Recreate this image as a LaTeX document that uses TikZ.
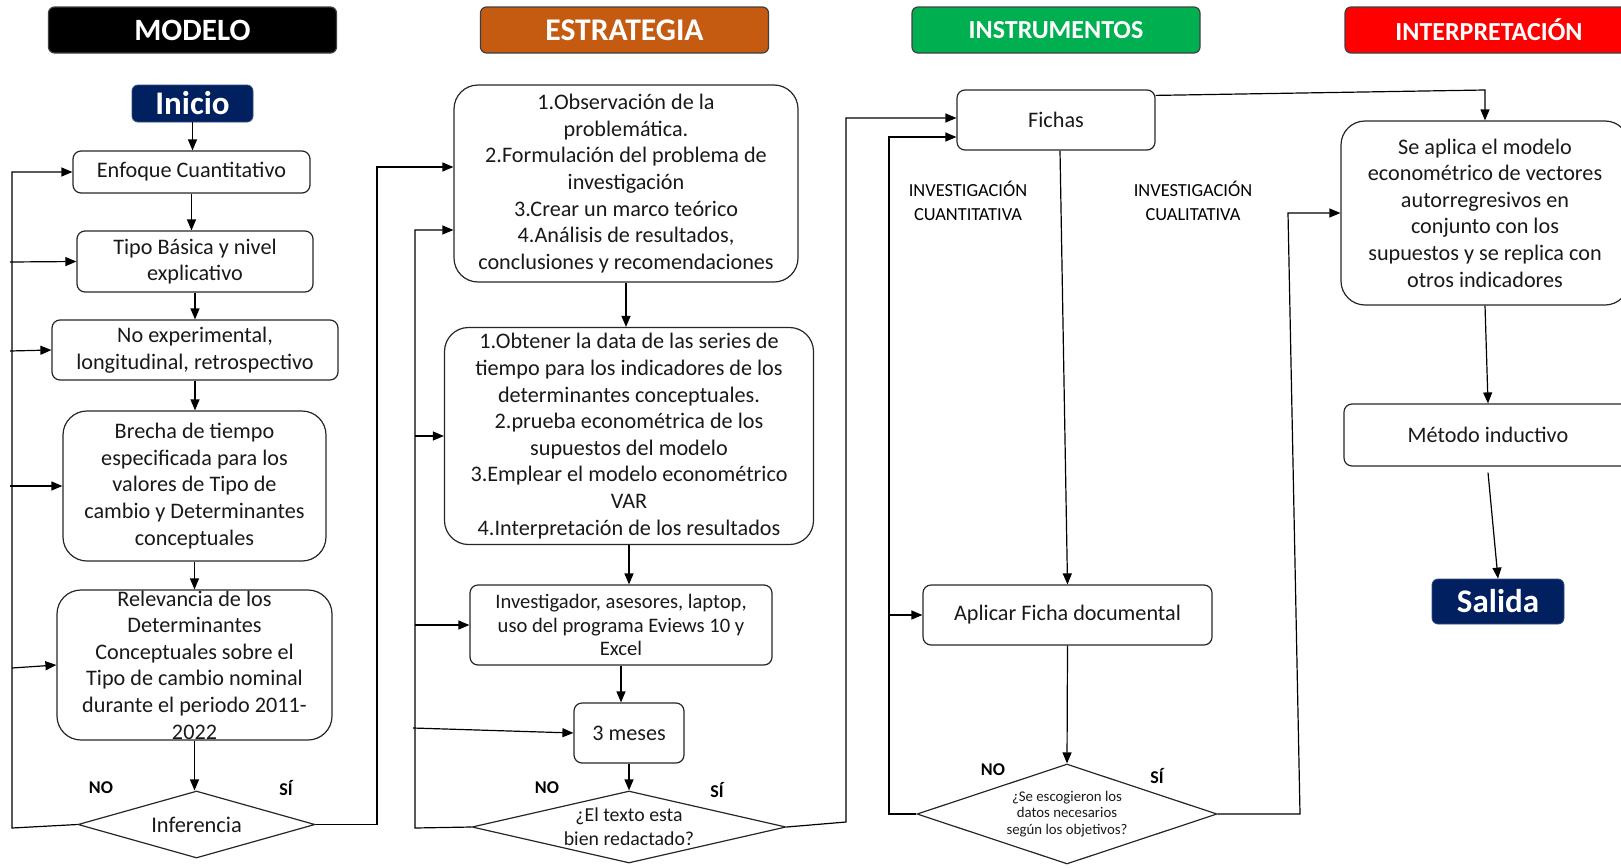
\documentclass[tikz,border=0pt]{standalone}
\usepackage{fontspec}
\setmainfont{Carlito}
\usepackage{xcolor}
\usetikzlibrary{arrows.meta, positioning, shapes.geometric}
\definecolor{navy}{HTML}{002060}
\definecolor{ocre}{HTML}{C55A11}
\definecolor{verde}{HTML}{00B050}
\definecolor{rojo}{HTML}{FF0000}

\begin{document}
\begin{tikzpicture}[x=0.5pt, y=-0.5pt,
  every node/.style={font=\fontsize{11.1}{13.3}\selectfont},
  box/.style={draw=black!85, line width=0.6pt, rounded corners=4pt, align=center, inner sep=0pt, text=black!90},
  bigbox/.style={box, rounded corners=12pt},
  head/.style={draw=black!75, line width=0.6pt, rounded corners=3pt, text=white, minimum width=144pt, minimum height=23pt, font=\bfseries\fontsize{13}{15}\selectfont},
  term/.style={fill=navy, draw=navy!80, rounded corners=3pt, text=white, inner sep=0pt, font=\bfseries\fontsize{16.5}{19}\selectfont},
  decision/.style={diamond, draw=black!85, line width=0.6pt, align=center, inner sep=0pt, text=black!90},
  lbl/.style={font=\bfseries\fontsize{9}{10}\selectfont},
  note/.style={align=center, font=\fontsize{9.2}{12}\selectfont},
  arr/.style={-{Triangle[width=4.5pt,length=5.5pt]}, line width=0.6pt},
  line/.style={line width=0.6pt}]
\useasboundingbox (0,0) rectangle (1621,867);

% Headers
\node[head, fill=black, font=\bfseries\fontsize{15.5}{17}\selectfont] (hmod) at (192.5,30) {MODELO};
\node[head, fill=ocre, font=\bfseries\fontsize{15.8}{17}\selectfont] (hest) at (624.5,30) {ESTRATEGIA};
\node[head, fill=verde] (hins) at (1056,30) {INSTRUMENTOS};
\node[head, fill=rojo] (hint) at (1489,30) {INTERPRETACIÓN};

% MODELO column
\node[term, minimum width=60.5pt, minimum height=18.5pt] (inicio) at (192.5,103.5) {Inicio};
\node[box, minimum width=118.5pt, minimum height=21pt] (enf) at (191.5,172) {Enfoque Cuantitativo};
\node[box, minimum width=118pt, minimum height=30.5pt] (tipo) at (195,261.5) {Tipo Básica y nivel\\explicativo};
\node[box, minimum width=143pt, minimum height=30pt] (noexp) at (195,350) {No experimental,\\longitudinal, retrospectivo};
\node[bigbox, minimum width=131.5pt, minimum height=75pt] (brecha) at (194.5,486) {Brecha de tiempo\\especificada para los\\valores de Tipo de\\cambio y Determinantes\\conceptuales};
\node[bigbox, minimum width=137.5pt, minimum height=75pt] (relev) at (194.5,665) {Relevancia de los\\Determinantes\\Conceptuales sobre el\\Tipo de cambio nominal\\durante el periodo 2011-\\2022};
\node[decision, minimum width=118.5pt, minimum height=33.5pt, aspect=3.5, font=\fontsize{11.2}{13.3}\selectfont] (inf) at (196.5,824.5) {Inferencia};
\node[lbl] (no1) at (101,788) {NO};
\node[lbl] (si1) at (286,788) {SÍ};

\draw[arr] (inicio.south) -- (inicio.south |- enf.north);
\draw[arr] (enf.south) -- (enf.south |- tipo.north);
\draw[arr] (tipo.south) -- (tipo.south |- noexp.north);
\draw[arr] (noexp.south) -- (noexp.south |- brecha.north);
\draw[arr] (brecha.south) -- (brecha.south |- relev.north);
\draw[arr] (relev.south) -- (relev.south |- inf.north);

% loop NO of Inferencia
\coordinate (a1) at (12,828);
\coordinate (a2) at (12,172);
\draw[arr] (inf.west) -- (a1) -- (a2) -- (enf.west);
\draw[arr] (10,262) -- (tipo.west);
\draw[arr] (10,351) -- (noexp.west);
\draw[arr] (10,486) -- (brecha.west);
\draw[arr] (12,668) -- (relev.west);

% SÍ of Inferencia
\coordinate (b1) at (377,824.5);
\coordinate (b2) at (377,167);

% ESTRATEGIA column
\node[bigbox, minimum width=172pt, minimum height=98.5pt] (s1) at (626,183.5) {1.Observación de la\\problemática.\\2.Formulación del problema de\\investigación\\3.Crear un marco teórico\\4.Análisis de resultados,\\conclusiones y recomendaciones};
\node[bigbox, minimum width=184.5pt, minimum height=108.5pt] (s2) at (629,436) {1.Obtener la data de las series de\\tiempo para los indicadores de los\\determinantes conceptuales.\\2.prueba econométrica de los\\supuestos del modelo\\3.Emplear el modelo econométrico\\VAR\\4.Interpretación de los resultados};
\node[box, minimum width=151pt, minimum height=40pt, font=\fontsize{10.3}{11.9}\selectfont] (s3) at (621,625) {Investigador, asesores, laptop,\\uso del programa Eviews 10 y\\Excel};
\node[box, minimum width=55pt, minimum height=30pt] (s4) at (629,733) {3 meses};
\node[decision, minimum width=157pt, minimum height=36pt, aspect=4, font=\fontsize{9.9}{12}\selectfont] (s5) at (629,827) {¿El texto esta\\bien redactado?};
\node[lbl] (no2) at (547,788) {NO};
\node[lbl] (si2) at (717,790) {SÍ};

\draw[arr] (inf.east) -- (b1) -- (b2) -- (s1.west |- b2);
\draw[arr] (s1.south) -- (s1.south |- s2.north);
\draw[arr] (s2.south) -- (s2.south |- s3.north);
\draw[arr] (s3.south) -- (s3.south |- s4.north);
\draw[arr] (s4.south) -- (s5.north);

% loop NO of the text
\coordinate (c1) at (415,828);
\coordinate (c2) at (415,230);
\draw[arr] (s5.west) -- (c1) -- (c2) -- (s1.west |- c2);
\draw[arr] (415,436) -- (s2.west);
\draw[arr] (415,625) -- (s3.west);
\draw[arr] (413,728) -- (s4.west);

% INSTRUMENTOS column
\node[box, minimum width=99pt, minimum height=30pt] (fichas) at (1056,120) {Fichas};
\node[note] (cuant) at (968,201) {INVESTIGACIÓN\\CUANTITATIVA};
\node[note] (cual) at (1193,201) {INVESTIGACIÓN\\CUALITATIVA};
\node[box, minimum width=144.5pt, minimum height=30pt] (aplicar) at (1067.5,615) {Aplicar Ficha documental};
\node[decision, minimum width=150pt, minimum height=50pt, aspect=3, font=\fontsize{7.4}{8.3}\selectfont] (datos) at (1067,814) {¿Se escogieron los\\datos necesarios\\según los objetivos?};
\node[lbl] (no3) at (993,770) {NO};
\node[lbl] (si3) at (1157,776) {SÍ};

\coordinate (d1) at (846,822);
\coordinate (d2) at (846,118);
\draw[arr] (s5.east) -- (d1) -- (d2) -- (fichas.west |- d2);
\draw[arr] ([xshift=2pt]fichas.south) -- (aplicar.north);
\draw[arr] (aplicar.south) -- (datos.north);

\coordinate (e1) at (889,814);
\coordinate (e2) at (889,137);
\draw[arr] (datos.west) -- (e1) -- (e2) -- (fichas.west |- e2);
\draw[arr] (889,615) -- (aplicar.west);

% INTERPRETACION column
\node[bigbox, minimum width=144pt, minimum height=92pt] (interp) at (1485,213) {Se aplica el modelo\\econométrico de vectores\\autorregresivos en\\conjunto con los\\supuestos y se replica con\\otros indicadores};
\node[box, minimum width=144pt, minimum height=31pt] (metodo) at (1488,435) {Método inductivo};
\node[term, minimum width=66pt, minimum height=22.5pt] (salida) at (1498,601.5) {Salida};

\coordinate (f1) at (1300,814);
\coordinate (f2) at (1288,213);
\draw[arr] (datos.east) -- (f1) -- (f2) -- (interp.west);
\coordinate (g1) at (1485,90);
\draw[arr] ([yshift=-3pt]fichas.north east) -- (g1) -- (interp.north);
\draw[arr] (interp.south) -- (metodo.north);
\draw[arr] ([yshift=-3pt]metodo.south) -- (salida.north);
\end{tikzpicture}
\end{document}
